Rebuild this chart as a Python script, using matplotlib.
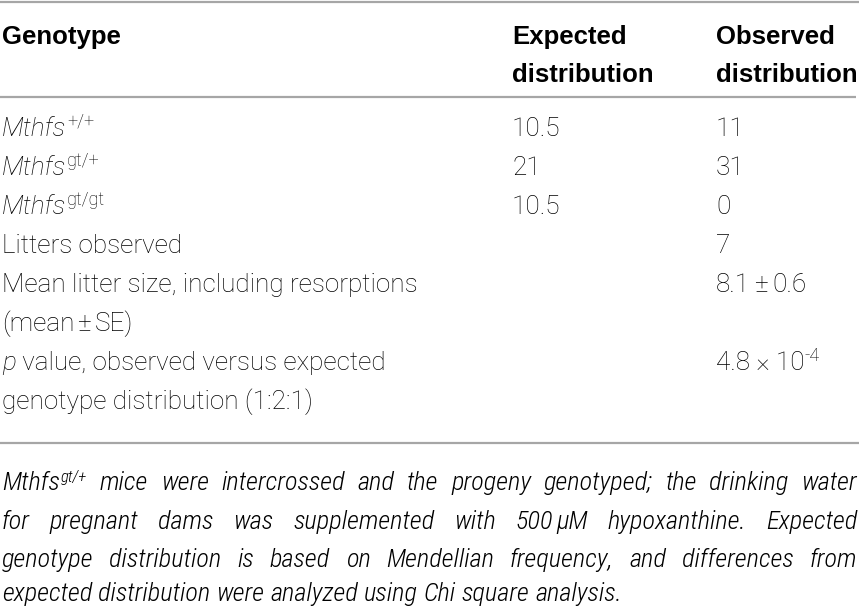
import matplotlib
matplotlib.use("Agg")
import matplotlib.pyplot as plt
from matplotlib import font_manager

# ---- table data ----
col_headers = [["Genotype"], ["Expected", "distribution"], ["Observed", "distribution"]]
gene = "Mthfs"
genotypes = ["+/+", "gt/+", "gt/gt"]
expected = [10.5, 21, 10.5]
observed = [11, 31, 0]
litters_observed = 7
litter_mean = 8.1
litter_se = 0.6
p_mantissa = 4.8
p_exponent = -4
row_litters = "Litters observed"
row_mean = ["Mean litter size, including resorptions", "(mean", "SE)"]
row_p = ["p", " value, observed versus expected", "genotype distribution (1:2:1)"]
# "~" marks a narrow, non-stretching gap
caption_lines = [
    "mice were intercrossed and the progeny genotyped; the drinking water",
    "for pregnant dams was supplemented with 500~µM hypoxanthine. Expected",
    "genotype distribution is based on Mendellian frequency, and differences from",
    "expected distribution were analyzed using Chi square analysis.",
]
caption_sup = "gt/+"

installed = {f.name for f in font_manager.fontManager.ttflist}
body_font = "Roboto" if "Roboto" in installed else "DejaVu Sans"
head_font = "Liberation Sans" if "Liberation Sans" in installed else "DejaVu Sans"
cap_font = body_font
for nm in ["Roboto Condensed", "Liberation Sans Narrow"]:
    if nm in installed:
        cap_font = nm
        break

W, H = 859, 606
fig = plt.figure(figsize=(W / 100, H / 100), dpi=100)
ax = fig.add_axes([0, 0, 1, 1])
ax.set_xlim(0, W)
ax.set_ylim(H, 0)
ax.axis("off")
fig.canvas.draw()
rend = fig.canvas.get_renderer()

body = dict(family=body_font, fontsize=18.8, fontweight="light", color="black")
body_it = dict(body, fontstyle="italic")
sup = dict(body, fontsize=13)
head = dict(family=head_font, fontsize=18.5, fontweight="bold", color="black")
cap = dict(family=cap_font, fontsize=19, fontstyle="italic", fontweight="light", color="black")
cap_sup = dict(cap, fontsize=12)


def width(s, kw):
    t = ax.text(0, 0, s, **kw)
    w = t.get_window_extent(rend).width
    t.remove()
    return w


def runs(x, y, parts, draw=True):
    # parts: (text, props, dx, dy)
    for s, kw, dx, dy in parts:
        x += dx
        if draw:
            ax.text(x, y + dy, s, va="baseline", ha="left", **kw)
        x += width(s, kw)
    return x


# rules
line_col = "#a6a6a6"
ax.plot([0, W], [1.5, 1.5], color=line_col, lw=1.6, solid_capstyle="butt")
ax.plot([0, 856], [97, 97], color=line_col, lw=1.6, solid_capstyle="butt")
ax.plot([0, W], [443, 443], color=line_col, lw=1.6, solid_capstyle="butt")

col_x = [2, 512, 716]
head_base = [44, 82]
for cx, lines in zip(col_x, col_headers):
    for yb, s in zip(head_base, lines):
        ax.text(cx, yb, s, va="baseline", ha="left", **head)

row_base = [136, 175, 214, 253, 292, 331, 370, 409]
for i, g in enumerate(genotypes):
    runs(col_x[0], row_base[i], [(gene, body_it, 0, 0), (g, sup, 1, -9)])
    ax.text(col_x[1], row_base[i], f"{expected[i]:g}", va="baseline", **body)
    ax.text(col_x[2], row_base[i], f"{observed[i]:g}", va="baseline", **body)

ax.text(col_x[0], row_base[3], row_litters, va="baseline", **body)
ax.text(col_x[2], row_base[3], str(litters_observed), va="baseline", **body)

ax.text(col_x[0], row_base[4], row_mean[0], va="baseline", **body)
runs(col_x[0], row_base[5], [(row_mean[1], body, 0, 0), ("±", body, 3, 0), (row_mean[2], body, 3, 0)])
runs(col_x[2], row_base[4], [(f"{litter_mean}", body, 0, 0), ("±", body, 4, 0), (f"{litter_se}", body, 4, 0)])

runs(col_x[0], row_base[6], [(row_p[0], body_it, 0, 0), (row_p[1], body, 0, 0)])
ax.text(col_x[0], row_base[7], row_p[2], va="baseline", **body)
runs(col_x[2], row_base[6], [(f"{p_mantissa} × 10", body, 0, 0), (f"{p_exponent}", sup, 0, -9)])

# caption, justified
cap_base = [490, 529, 567, 601]
x0, x1 = 2, 857
space_w = width("a a", cap) - width("aa", cap)
for li, line in enumerate(caption_lines):
    words = []
    for w in line.split(" "):
        pieces = w.split("~")
        words.append([(p, cap, 0 if k == 0 else 3, 0) for k, p in enumerate(pieces)])
    if li == 0:
        words.insert(0, [(gene, cap, 0, 0), (caption_sup, cap_sup, 1, -8)])
    ws = [runs(0, 0, wd, draw=False) for wd in words]
    if li < len(caption_lines) - 1:
        gap = (x1 - x0 - sum(ws)) / (len(words) - 1)
    else:
        gap = space_w
    x = x0
    for wd, wi in zip(words, ws):
        runs(x, cap_base[li], wd)
        x += wi + gap

fig.savefig("out.png", dpi=100)
